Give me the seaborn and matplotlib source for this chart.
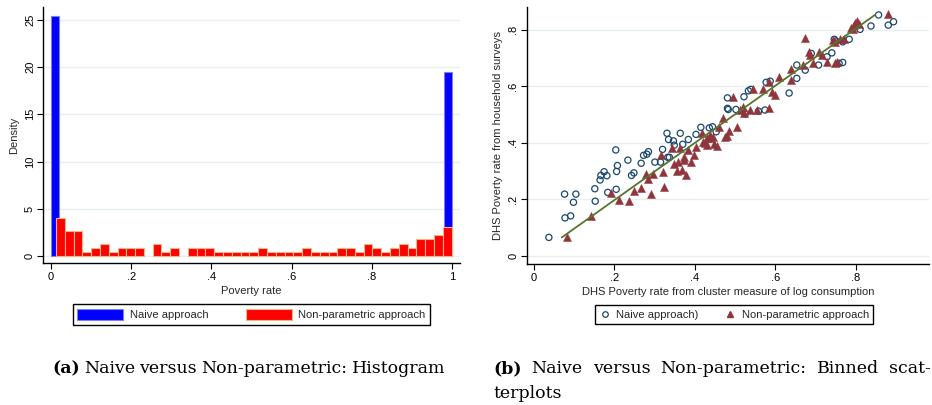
import numpy as np
import pandas as pd
import matplotlib
matplotlib.use("Agg")
import matplotlib.pyplot as plt
import seaborn as sns
from matplotlib.patches import Patch
from matplotlib.lines import Line2D
from matplotlib.ticker import FuncFormatter

# ---------------- histogram panel ----------------
naive_values = [0.0, 1.0]
naive_density = [25.4, 19.5]
naive_bins = 48

np_range = (0.0125, 0.999)
np_density = [4.0, 2.6, 2.6, 0.4, 0.8, 1.25, 0.4, 0.8, 0.8, 0.8,
              0.0, 1.25, 0.4, 0.8, 0.0, 0.8, 0.8, 0.8, 0.4, 0.4,
              0.4, 0.4, 0.4, 0.8, 0.4, 0.4, 0.4, 0.4, 0.8, 0.4,
              0.4, 0.4, 0.8, 0.8, 0.4, 1.25, 0.8, 0.4, 0.8, 1.25,
              0.8, 1.75, 1.75, 2.2, 3.1]

# ---------------- binned scatter panel ----------------
naive_x = [0.038, 0.077, 0.078, 0.092, 0.099, 0.105, 0.152, 0.153, 0.165, 0.167,
           0.175, 0.182, 0.184, 0.204, 0.205, 0.206, 0.208, 0.234, 0.243, 0.249,
           0.267, 0.273, 0.281, 0.285, 0.301, 0.315, 0.320, 0.331, 0.333, 0.335,
           0.337, 0.347, 0.349, 0.364, 0.370, 0.384, 0.403, 0.415, 0.436, 0.444,
           0.453, 0.481, 0.481, 0.483, 0.502, 0.522, 0.525, 0.533, 0.539, 0.558,
           0.574, 0.577, 0.587, 0.634, 0.653, 0.653, 0.674, 0.689, 0.707, 0.728,
           0.740, 0.746, 0.750, 0.758, 0.767, 0.767, 0.783, 0.810, 0.837, 0.856,
           0.880, 0.893]
naive_y = [0.066, 0.219, 0.135, 0.142, 0.190, 0.219, 0.238, 0.194, 0.269, 0.285,
           0.298, 0.284, 0.225, 0.375, 0.236, 0.299, 0.320, 0.339, 0.285, 0.294,
           0.328, 0.356, 0.360, 0.369, 0.332, 0.332, 0.377, 0.434, 0.349, 0.412,
           0.349, 0.407, 0.392, 0.434, 0.395, 0.412, 0.430, 0.455, 0.453, 0.457,
           0.439, 0.559, 0.522, 0.518, 0.518, 0.563, 0.502, 0.584, 0.589, 0.512,
           0.516, 0.614, 0.618, 0.576, 0.628, 0.675, 0.657, 0.716, 0.675, 0.704,
           0.718, 0.766, 0.760, 0.681, 0.684, 0.757, 0.766, 0.801, 0.813, 0.852,
           0.816, 0.828]

nonpar_x = [0.082, 0.143, 0.191, 0.213, 0.238, 0.249, 0.267, 0.278, 0.285, 0.291,
            0.297, 0.315, 0.322, 0.323, 0.344, 0.349, 0.355, 0.359, 0.364, 0.368,
            0.372, 0.378, 0.384, 0.390, 0.397, 0.403, 0.417, 0.426, 0.430, 0.430,
            0.438, 0.440, 0.446, 0.448, 0.455, 0.459, 0.469, 0.475, 0.479, 0.486,
            0.494, 0.504, 0.512, 0.519, 0.521, 0.537, 0.545, 0.554, 0.570, 0.583,
            0.585, 0.591, 0.599, 0.608, 0.638, 0.639, 0.668, 0.674, 0.684, 0.686,
            0.694, 0.707, 0.715, 0.728, 0.748, 0.752, 0.744, 0.748, 0.761, 0.769,
            0.787, 0.792, 0.794, 0.798, 0.802, 0.808, 0.880, 0.372, 0.421]
nonpar_y = [0.066, 0.143, 0.222, 0.197, 0.193, 0.231, 0.239, 0.290, 0.272, 0.221,
            0.290, 0.358, 0.298, 0.243, 0.383, 0.325, 0.301, 0.333, 0.382, 0.304,
            0.349, 0.286, 0.375, 0.333, 0.357, 0.384, 0.436, 0.398, 0.416, 0.392,
            0.428, 0.416, 0.419, 0.396, 0.389, 0.457, 0.487, 0.422, 0.424, 0.443,
            0.561, 0.455, 0.516, 0.528, 0.504, 0.516, 0.589, 0.516, 0.589, 0.522,
            0.616, 0.581, 0.569, 0.631, 0.660, 0.622, 0.675, 0.769, 0.721, 0.710,
            0.683, 0.722, 0.710, 0.687, 0.681, 0.684, 0.763, 0.757, 0.766, 0.766,
            0.805, 0.801, 0.816, 0.822, 0.832, 0.820, 0.855, 0.339, 0.404]

# linear fit drawn over the panel
fit_intercept = -0.005
fit_slope = 1.012
fit_span = (0.07, 0.847)

NAVY = "#1a476f"
MAROON = "#90353b"
GREEN = "#55752f"
BLUE = "#0000ff"
RED = "#ff0000"
GRID = "#e7f0f1"

sns.set_theme(style="white")
plt.rcParams["font.family"] = ["Liberation Sans", "DejaVu Sans"]
plt.rcParams["axes.linewidth"] = 1.0

W, H = 932, 405
fig = plt.figure(figsize=(W / 100, H / 100), dpi=100)


def px_axes(x0, y0, x1, y1):
    return fig.add_axes([x0 / W, 1 - y1 / H, (x1 - x0) / W, (y1 - y0) / H])


def stata_fmt(v, _pos=None):
    s = "%g" % round(v, 6)
    if s.startswith("0."):
        s = s[1:]
    return s


def style_axes(ax):
    for side in ("top", "right"):
        ax.spines[side].set_visible(False)
    for side in ("left", "bottom"):
        ax.spines[side].set_color("black")
        ax.spines[side].set_linewidth(1.0)
    ax.yaxis.grid(True, color=GRID, linewidth=1.0)
    ax.xaxis.grid(False)
    ax.set_axisbelow(True)
    ax.tick_params(direction="out", length=4, width=0.8, color="black",
                   labelsize=8, pad=2, labelcolor="black",
                   bottom=True, left=True)
    ax.tick_params(axis="y", labelrotation=90)
    for lab in ax.get_yticklabels():
        lab.set_va("center")
    ax.xaxis.set_major_formatter(FuncFormatter(stata_fmt))
    ax.yaxis.set_major_formatter(FuncFormatter(stata_fmt))


# ---------------- left: histogram ----------------
ax1 = px_axes(43.3, 7, 460, 263.3)
naive_df = pd.DataFrame({"rate": naive_values, "density": naive_density})
sns.histplot(data=naive_df, x="rate", weights="density", bins=naive_bins,
             binrange=(0, 1), stat="count", color=BLUE, edgecolor="#7f7fe6",
             linewidth=0.8, alpha=1, ax=ax1)
np_edges = np.linspace(np_range[0], np_range[1], len(np_density) + 1)
np_df = pd.DataFrame({"rate": (np_edges[:-1] + np_edges[1:]) / 2,
                      "density": np_density})
sns.histplot(data=np_df, x="rate", weights="density", bins=len(np_density),
             binrange=np_range, stat="count", color=RED, edgecolor="#e8b88a",
             linewidth=0.8, alpha=1, ax=ax1)
for p in ax1.patches:
    if p.get_height() <= 0:
        p.set_visible(False)

ax1.set_xlim(-0.0192, 1.02)
ax1.set_ylim(-0.77, 26.35)
ax1.set_xticks([0, 0.2, 0.4, 0.6, 0.8, 1.0])
ax1.set_yticks([0, 5, 10, 15, 20, 25])
style_axes(ax1)
ax1.set_xlabel("Poverty rate", fontsize=8, labelpad=3)
ax1.set_ylabel("Density", fontsize=8, labelpad=4)

fig.legend(handles=[Patch(facecolor=BLUE, edgecolor="#7f7fe6", linewidth=0.8),
                    Patch(facecolor=RED, edgecolor="#e8b88a", linewidth=0.8)],
           labels=["Naive approach", "Non-parametric approach"],
           loc="center", bbox_to_anchor=(251.5 / W, 1 - 314.5 / H),
           ncol=2, fontsize=8, frameon=True, fancybox=False,
           edgecolor="black", framealpha=1, borderpad=0.4,
           handlelength=4.1, handleheight=1.15, handletextpad=0.6,
           columnspacing=3.4).get_frame().set_linewidth(1.0)

# ---------------- right: binned scatter ----------------
ax2 = px_axes(526.7, 7.3, 929, 264.3)
naive_sc = pd.DataFrame({"x": naive_x, "y": naive_y})
nonpar_sc = pd.DataFrame({"x": nonpar_x, "y": nonpar_y})
sns.scatterplot(data=naive_sc, x="x", y="y", marker="o", s=20,
                facecolors="none", edgecolors=NAVY, linewidths=0.9, ax=ax2)
sns.scatterplot(data=nonpar_sc, x="x", y="y", marker="^", s=34,
                color=MAROON, edgecolor=MAROON, linewidth=0.3, ax=ax2)
line_x = np.array(fit_span)
line_y = fit_intercept + fit_slope * line_x
sns.lineplot(x=line_x, y=line_y, color=GREEN, linewidth=1.3, ax=ax2)

ax2.set_xlim(-0.017, 0.981)
ax2.set_ylim(-0.029, 0.879)
ax2.set_xticks([0, 0.2, 0.4, 0.6, 0.8])
ax2.set_yticks([0, 0.2, 0.4, 0.6, 0.8])
style_axes(ax2)
ax2.set_xlabel("DHS Poverty rate from cluster measure of log consumption",
               fontsize=8, labelpad=3)
ax2.set_ylabel("DHS Poverty rate from household surveys", fontsize=8,
               labelpad=4)

fig.legend(handles=[Line2D([], [], linestyle="none", marker="o", markersize=4,
                           markerfacecolor="none", markeredgecolor=NAVY,
                           markeredgewidth=0.9),
                    Line2D([], [], linestyle="none", marker="^", markersize=5,
                           color=MAROON)],
           labels=["Naive approach)", "Non-parametric approach"],
           loc="center", bbox_to_anchor=(734 / W, 1 - 314.5 / H),
           ncol=2, fontsize=8, frameon=True, fancybox=False,
           edgecolor="black", framealpha=1, borderpad=0.4,
           handlelength=1.0, handletextpad=0.5,
           columnspacing=2.4).get_frame().set_linewidth(1.0)

# ---------------- sub-captions ----------------
SERIF = ["DejaVu Serif", "Liberation Serif"]
CAP_SIZE = 12.5
renderer = fig.canvas.get_renderer()


def caption_line(x_px, y_px, tag, words, right_px=None, gap_px=4.3):
    """Write a bold tag followed by words; justify to right_px if given."""
    y = 1 - y_px / H
    pieces = []
    if tag:
        pieces.append(fig.text(x_px / W, y, tag, family=SERIF,
                               fontsize=CAP_SIZE, fontweight="bold",
                               va="baseline", ha="left", color="black"))
    for w in words:
        pieces.append(fig.text(0, y, w, family=SERIF, fontsize=CAP_SIZE,
                               va="baseline", ha="left", color="black"))
    widths = [p.get_window_extent(renderer=renderer).width for p in pieces]
    if right_px is not None and len(pieces) > 1:
        gap_px = max(gap_px, (right_px - x_px - sum(widths)) / (len(pieces) - 1))
    cur = x_px
    for p, wd in zip(pieces, widths):
        p.set_x(cur / W)
        cur += wd + gap_px


caption_line(52, 373, "(a)",
             "Naive versus Non-parametric: Histogram".split())
caption_line(493, 373, "(b)",
             "Naive versus Non-parametric: Binned scat-".split(),
             right_px=931)
caption_line(493, 398, None, ["terplots"])

fig.savefig("out.png", dpi=100, facecolor="white")
